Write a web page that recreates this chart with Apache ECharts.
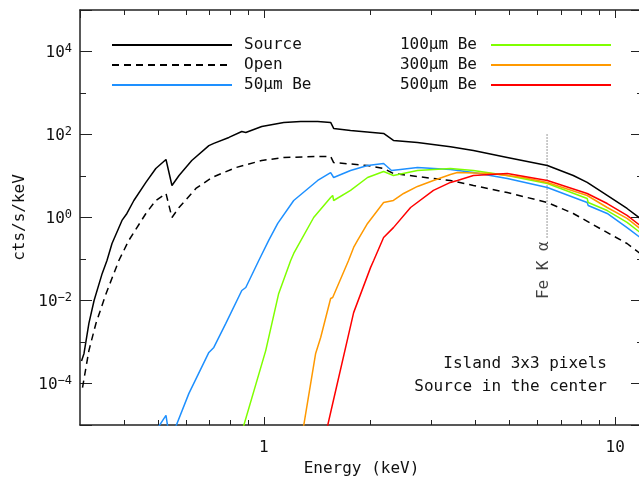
<!DOCTYPE html>
<html><head><meta charset="utf-8">
<script src="https://cdn.jsdelivr.net/npm/echarts@6/dist/echarts.min.js"></script>
<style>html,body{margin:0;padding:0;background:#fff}#c{width:639px;height:481px}</style>
</head><body><div id="c"></div>
<script>
// ---- data: [energy keV, counts/s/keV] ----
const sourceData = [[0.303,3.5e-4],[0.308,5.3e-4],[0.318,2.8e-3],[0.329,1.0e-2],[0.347,4.5e-2],[0.358,0.092],[0.370,0.236],[0.395,0.85],[0.408,1.25],[0.427,2.57],[0.462,7.0],[0.493,15.2],[0.527,25],[0.548,5.9],[0.574,10.3],[0.624,23.6],[0.698,54],[0.721,61],[0.796,85],[0.866,118],[0.889,112],[0.987,156],[1.14,195],[1.274,206],[1.424,206],[1.55,195],[1.581,140],[1.766,125],[2.193,106],[2.339,72],[2.738,64],[3.398,51],[3.95,41],[4.932,28],[6.412,17.9],[7.598,10.3],[8.324,7.0],[9.49,3.39],[10.81,1.65],[11.78,0.95],[12,0.85]];
const openData = [[0.305,8e-5],[0.318,6.2e-4],[0.333,2.8e-3],[0.356,1.48e-2],[0.387,0.092],[0.413,0.28],[0.462,1.25],[0.493,2.57],[0.527,3.79],[0.548,1.0],[0.574,1.74],[0.641,5.0],[0.712,9.2],[0.833,16],[0.987,23.6],[1.14,27.9],[1.424,29.5],[1.55,29.5],[1.581,21.1],[1.974,17.9],[2.193,15.2],[2.339,11.5],[2.738,9.7],[3.398,7.8],[3.95,5.9],[4.932,4.0],[6.412,2.3],[7.598,1.25],[9.06,0.54],[10.81,0.236],[11.78,0.136],[12,0.12]];
const be50Data = [[0.496,7.8e-6],[0.527,1.7e-5],[0.537,6e-6],[0.555,7e-6],[0.612,5.7e-5],[0.698,5.6e-4],[0.721,7.4e-4],[0.78,2.8e-3],[0.866,1.74e-2],[0.889,2.06e-2],[0.968,0.092],[1.033,0.28],[1.096,0.72],[1.217,2.57],[1.424,7.8],[1.55,12.1],[1.581,9.2],[1.766,13.6],[1.974,17.9],[2.193,20],[2.31,13.6],[2.449,14.4],[2.738,16],[3.398,14.4],[3.95,12.1],[4.932,8.7],[6.412,5.3],[8.324,2.3],[8.38,1.95],[9.49,1.25],[10.81,0.57],[11.78,0.33],[12,0.29]];
const be100Data = [[0.869,7.4e-6],[1.013,6.2e-4],[1.103,1.48e-2],[1.193,0.092],[1.217,0.136],[1.387,1.0],[1.55,3.03],[1.571,3.39],[1.581,2.57],[1.766,4.5],[1.974,9.2],[2.193,12.8],[2.339,10.3],[2.738,13.6],[3.398,15.2],[3.95,13.6],[4.932,10.3],[6.412,6.6],[8.324,2.87],[8.38,2.3],[9.49,1.47],[10.81,0.76],[11.78,0.435],[12,0.39]];
const be300Data = [[1.291,7e-6],[1.405,5.3e-4],[1.452,1.28e-3],[1.55,1.12e-2],[1.571,1.18e-2],[1.743,0.092],[1.802,0.19],[1.849,0.28],[1.974,0.72],[2.193,2.3],[2.339,2.57],[2.5,3.79],[2.738,5.6],[3.04,7.8],[3.398,10.9],[3.557,12.1],[4.415,11.5],[5.48,9.2],[6.412,7.0],[8.324,3.39],[9.49,1.74],[10.81,0.95],[11.78,0.54],[12,0.48]];
const be500Data = [[1.51,7.6e-6],[1.571,3.3e-5],[1.581,3.5e-5],[1.802,5.1e-3],[2.013,0.062],[2.055,0.092],[2.193,0.33],[2.339,0.57],[2.617,1.74],[3.04,4.5],[3.398,7.0],[3.557,7.8],[3.95,10.3],[4.932,11.5],[6.412,7.8],[8.324,3.79],[9.49,2.17],[10.81,1.12],[11.78,0.64],[12,0.57]];
const seriesNames = ['Source','Open','50μm Be','100μm Be','300μm Be','500μm Be'];
const feKaEnergy = 6.4;
const feKaRange = [100, 0.3];
const feKaText = 'Fe K α';
const noteText = ['Island 3x3 pixels','Source in the center'];
const xRange = [0.3, 12];
const yRange = [1e-5, 1e5];
const xMinorTicks = [0.4,0.5,0.6,0.7,0.8,0.9,2,3,4,5,6,7,8,9];
const yMinorTicks = [1e-3,1e-1,1e1,1e3];

// ---- styling ----
const FONT = 'DejaVu Sans Mono';
const INK = '#111';
const AX = '#222';
const isPow10 = v => Math.abs(Math.log10(v) - Math.round(Math.log10(v))) < 1e-9;

const chart = echarts.init(document.getElementById('c'), null, {renderer:'canvas'});

function lineSeries(name, data, color, type, width) {
  return {name, type:'line', data, symbol:'none', showSymbol:false, silent:true,
    lineStyle:{color, width, type}, itemStyle:{color}, clip:true, z:4};
}
const axisCommonX = (pos, showLabel) => ({
  type:'log', logBase:10, min:xRange[0], max:xRange[1], position:pos,
  axisLine:{show:true, lineStyle:{color:AX, width:1.5}},
  axisTick:{show:true, inside:true, length:8, lineStyle:{color:AX, width:1}},
  splitLine:{show:false}, minorTick:{show:false},
  axisLabel:{show:showLabel, margin:15, fontFamily:FONT, fontSize:16, color:INK,
    showMinLabel:false, showMaxLabel:false,
    formatter: v => isPow10(v) ? String(Math.round(v)) : ''}
});
const axisCommonY = (pos, showLabel) => ({
  type:'log', logBase:100, min:yRange[0], max:yRange[1], position:pos,
  axisLine:{show:true, lineStyle:{color:AX, width:1.5}},
  axisTick:{show:true, inside:true, length:12, lineStyle:{color:AX, width:1}},
  splitLine:{show:false}, minorTick:{show:false},
  axisLabel:{show:showLabel, margin:8, fontFamily:FONT, fontSize:16, color:INK,
    formatter: v => {
      const e = Math.round(Math.log10(v));
      if (e % 2 !== 0) return '';
      return '{b|10}{s|' + (e < 0 ? '−' : '') + Math.abs(e) + '}';
    },
    rich:{
      b:{fontFamily:FONT, fontSize:16, color:INK, lineHeight:18, verticalAlign:'bottom'},
      s:{fontFamily:FONT, fontSize:12, color:INK, lineHeight:12, verticalAlign:'top'}
    }}
});

const xAxes = [axisCommonX('bottom', true), axisCommonX('top', false)];
Object.assign(xAxes[0], {name:'Energy (keV)', nameLocation:'middle', nameGap:35,
  nameTextStyle:{fontFamily:FONT, fontSize:16, color:INK}});
const yAxes = [axisCommonY('left', true), axisCommonY('right', false)];
Object.assign(yAxes[0], {name:'cts/s/keV', nameLocation:'middle', nameGap:50,
  nameTextStyle:{fontFamily:FONT, fontSize:16, color:INK}});

const tickStyle = {stroke:AX, lineWidth:1};
const px = v => Math.round(v) + 0.5;
const legendBase = {orient:'vertical', top:32, itemWidth:120, itemHeight:14, itemGap:4, selectedMode:false,
  itemStyle:{color:'rgba(0,0,0,0)', borderWidth:0, opacity:0}};

const option = {
  animation:false,
  backgroundColor:'#fff',
  grid:{left:80, right:-4, top:10, bottom:56, containLabel:false, outerBoundsMode:'none'},
  xAxis:xAxes,
  yAxis:yAxes,
  legend:[
    Object.assign({}, legendBase, {data:seriesNames.slice(0,3), left:106, align:'left',
      textStyle:{fontFamily:FONT, fontSize:16, color:INK, padding:[0,0,0,7]}}),
    Object.assign({}, legendBase, {data:seriesNames.slice(3), right:22, align:'right',
      textStyle:{fontFamily:FONT, fontSize:16, color:INK, padding:[0,9,0,0]}})
  ],
  graphic: noteText.map((t, i) => ({type:'text', right:32, top:356 + i * 23, z:10,
    style:{text:t, font:'16px "' + FONT + '"', fill:INK}})),
  series:[
    lineSeries(seriesNames[0], sourceData, '#000000', 'solid', 1.5),
    lineSeries(seriesNames[1], openData, '#000000', [7,5], 1.5),
    lineSeries(seriesNames[2], be50Data, '#1E90FF', 'solid', 1.5),
    lineSeries(seriesNames[3], be100Data, '#7FFF00', 'solid', 1.5),
    lineSeries(seriesNames[4], be300Data, '#FF9900', 'solid', 1.5),
    lineSeries(seriesNames[5], be500Data, '#FF0000', 'solid', 1.5),
    {name:'FeKa', type:'line', data:feKaRange.map(v => [feKaEnergy, v]), symbol:'none', silent:true,
     lineStyle:{color:'#333', width:1, type:[1,2]}, z:3},
    {name:'FeKaLabel', type:'scatter', data:[[feKaEnergy, feKaRange[1]]], symbolSize:0, silent:true,
     label:{show:true, formatter:feKaText, rotate:90, position:'inside', offset:[-31,-3],
       fontFamily:FONT, fontSize:16, color:INK}},
    {name:'xMinor', type:'custom', silent:true, z:5, clip:false,
     data:xMinorTicks.map(v => [v, 1]),
     renderItem(params, api) {
       const cs = params.coordSys;
       const x = px(api.coord([api.value(0), 1])[0]);
       const b = cs.y + cs.height, t = cs.y;
       return {type:'group', children:[
         {type:'line', shape:{x1:x, y1:b, x2:x, y2:b-5}, style:tickStyle},
         {type:'line', shape:{x1:x, y1:t, x2:x, y2:t+5}, style:tickStyle}
       ]};
     }},
    {name:'yMinor', type:'custom', silent:true, z:5, clip:false,
     data:yMinorTicks.map(v => [1, v]),
     renderItem(params, api) {
       const cs = params.coordSys;
       const y = px(api.coord([1, api.value(1)])[1]);
       const l = cs.x, r = cs.x + cs.width;
       return {type:'group', children:[
         {type:'line', shape:{x1:l, y1:y, x2:l+6, y2:y}, style:tickStyle},
         {type:'line', shape:{x1:r, y1:y, x2:r-6, y2:y}, style:tickStyle}
       ]};
     }}
  ]
};
chart.setOption(option);
</script></body></html>
